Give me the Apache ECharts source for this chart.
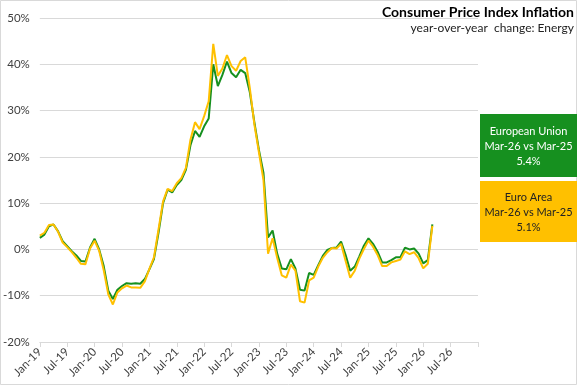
<!DOCTYPE html>
<html>
<head>
<meta charset="utf-8">
<script src="https://cdn.jsdelivr.net/npm/echarts@6/dist/echarts.min.js"></script>
<style>
html,body{margin:0;padding:0;background:#fff;}
#chart{width:577px;height:385px;}
</style>
</head>
<body>
<div id="chart"></div>
<script>
// Months on the axis (Jan-19 .. Jan-27)
const months = [
 'Jan-19','Feb-19','Mar-19','Apr-19','May-19','Jun-19','Jul-19','Aug-19','Sep-19','Oct-19','Nov-19','Dec-19',
 'Jan-20','Feb-20','Mar-20','Apr-20','May-20','Jun-20','Jul-20','Aug-20','Sep-20','Oct-20','Nov-20','Dec-20',
 'Jan-21','Feb-21','Mar-21','Apr-21','May-21','Jun-21','Jul-21','Aug-21','Sep-21','Oct-21','Nov-21','Dec-21',
 'Jan-22','Feb-22','Mar-22','Apr-22','May-22','Jun-22','Jul-22','Aug-22','Sep-22','Oct-22','Nov-22','Dec-22',
 'Jan-23','Feb-23','Mar-23','Apr-23','May-23','Jun-23','Jul-23','Aug-23','Sep-23','Oct-23','Nov-23','Dec-23',
 'Jan-24','Feb-24','Mar-24','Apr-24','May-24','Jun-24','Jul-24','Aug-24','Sep-24','Oct-24','Nov-24','Dec-24',
 'Jan-25','Feb-25','Mar-25','Apr-25','May-25','Jun-25','Jul-25','Aug-25','Sep-25','Oct-25','Nov-25','Dec-25',
 'Jan-26','Feb-26','Mar-26','Apr-26','May-26','Jun-26','Jul-26','Aug-26','Sep-26','Oct-26','Nov-26','Dec-26',
 'Jan-27'
];
// European Union, energy HICP, y/y %
const euValues = [
 2.5, 3.2, 5.0, 5.4, 3.9, 1.8, 0.7, -0.4, -1.3, -2.5, -2.6, 0.4,
 2.3, 0.0, -3.6, -8.9, -10.7, -8.7, -7.9, -7.3, -7.4, -7.3, -7.4, -6.4,
 -4.3, -2.1, 3.6, 10.0, 12.9, 12.3, 13.9, 15.0, 17.2, 22.5, 25.6, 24.3,
 26.6, 28.3, 40.0, 35.3, 37.7, 40.6, 38.1, 37.2, 38.8, 38.1, 34.0, 27.5,
 21.5, 16.5, 2.6, 4.1, -0.9, -4.1, -4.3, -2.1, -4.1, -8.7, -8.9, -5.1,
 -5.5, -3.4, -1.4, -0.1, 0.3, 0.4, 1.7, -1.2, -4.6, -3.7, -1.5, 0.8,
 2.4, 1.2, -0.5, -2.8, -2.8, -2.3, -1.7, -1.7, 0.4, 0.0, 0.2, -0.9,
 -3.0, -2.3, 5.4
];
// Euro Area, energy HICP, y/y %
const eaValues = [
 3.0, 3.6, 5.3, 5.4, 3.8, 1.5, 0.5, -0.6, -1.8, -3.1, -3.2, 0.2,
 1.9, -0.3, -4.5, -9.7, -11.9, -9.3, -8.4, -7.8, -8.2, -8.2, -8.3, -6.9,
 -4.2, -1.7, 4.3, 10.4, 13.1, 12.6, 14.3, 15.4, 17.6, 23.7, 27.5, 26.0,
 28.8, 32.0, 44.4, 37.5, 39.1, 42.0, 39.6, 38.6, 40.7, 41.5, 34.9, 27.0,
 21.0, 15.0, -0.9, 2.4, -1.8, -5.6, -6.1, -3.3, -4.6, -11.2, -11.5, -6.7,
 -6.1, -3.7, -1.8, -0.6, 0.3, 0.2, 1.2, -2.5, -6.1, -4.6, -2.0, 0.1,
 1.9, 0.6, -1.2, -3.6, -3.6, -2.8, -2.5, -2.2, -0.4, -1.0, -0.6, -1.9,
 -4.1, -3.1, 5.1
];
const yTicks = [-20, -10, 0, 10, 20, 30, 40, 50];
const seriesNames = ['European Union', 'Euro Area'];
const compareLabel = 'Mar-26 vs Mar-25';

const GREEN = '#16901F';
const GOLD = '#FFC000';
const FONT = 'Lato, "Liberation Sans", sans-serif';

const chart = echarts.init(document.getElementById('chart'), null, {renderer: 'canvas'});
chart.setOption({
  animation: false,
  backgroundColor: '#fff',
  grid: {left: 39, right: 99, top: 18, bottom: 43, containLabel: false},
  xAxis: [{
    type: 'category',
    data: months,
    boundaryGap: false,
    position: 'bottom',
    axisLine: {show: false},
    axisTick: {show: false},
    splitLine: {show: false},
    axisLabel: {
      interval: 5, rotate: 45, margin: 8,
      color: '#404040', fontSize: 11.5, fontFamily: FONT,
      formatter: v => v === months[months.length - 1] ? '' : v
    }
  }, {
    type: 'category',
    data: months,
    boundaryGap: false,
    position: 'bottom',
    axisLine: {show: true, onZero: true, lineStyle: {color: '#d9d9d9', width: 1}},
    axisTick: {show: true, interval: 5, length: 5, inside: false, lineStyle: {color: '#d9d9d9'}},
    axisLabel: {show: false},
    splitLine: {show: false}
  }],
  yAxis: {
    type: 'value',
    min: yTicks[0], max: yTicks[yTicks.length - 1], interval: 10,
    axisLine: {show: false},
    axisTick: {show: false},
    splitLine: {show: true, lineStyle: {color: '#d9d9d9', width: 1}},
    axisLabel: {color: '#404040', fontSize: 11.5, fontFamily: FONT, margin: 10, formatter: v => v + '%'}
  },
  series: [{
    name: seriesNames[0], type: 'line', data: euValues, xAxisIndex: 0,
    showSymbol: false, symbol: 'none',
    lineStyle: {color: GREEN, width: 2}, itemStyle: {color: GREEN}, z: 2
  }, {
    name: seriesNames[1], type: 'line', data: eaValues, xAxisIndex: 0,
    showSymbol: false, symbol: 'none',
    lineStyle: {color: GOLD, width: 2}, itemStyle: {color: GOLD}, z: 3
  }],
  graphic: [
    {type: 'rect', silent: true, z: 0, shape: {x: 0.5, y: 0.5, width: 576, height: 384},
     style: {fill: 'none', stroke: '#d9d9d9', lineWidth: 1}},
    {type: 'text', x: 574, y: 12, z: 10,
     style: {text: 'Consumer Price Index Inflation', font: 'bold 14px ' + FONT, fill: '#000', align: 'right', verticalAlign: 'middle'}},
    {type: 'text', x: 574, y: 28, z: 10,
     style: {text: 'year-over-year  change: Energy', font: '12px ' + FONT, fill: '#222', align: 'right', verticalAlign: 'middle'}},
    {type: 'rect', x: 480, y: 114, z: 10, shape: {width: 97, height: 63}, style: {fill: GREEN}},
    {type: 'text', x: 528.5, y: 146, z: 11,
     style: {text: seriesNames[0] + '\n' + compareLabel + '\n' + euValues[euValues.length - 1].toFixed(1) + '%',
             font: '11px ' + FONT, lineHeight: 15, fill: '#fff', align: 'center', verticalAlign: 'middle'}},
    {type: 'rect', x: 480, y: 181, z: 10, shape: {width: 97, height: 61}, style: {fill: GOLD}},
    {type: 'text', x: 528.5, y: 212, z: 11,
     style: {text: seriesNames[1] + '\n' + compareLabel + '\n' + eaValues[eaValues.length - 1].toFixed(1) + '%',
             font: '11px ' + FONT, lineHeight: 15, fill: '#222', align: 'center', verticalAlign: 'middle'}}
  ]
});
</script>
</body>
</html>
